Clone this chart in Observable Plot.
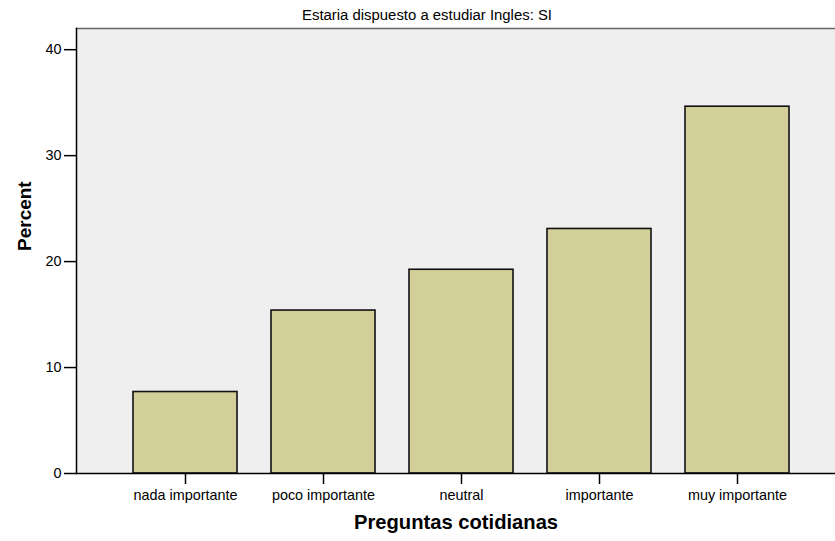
<!DOCTYPE html>
<html>
<head>
<meta charset="utf-8">
<script src="https://cdn.jsdelivr.net/npm/d3@7"></script>
<script src="https://cdn.jsdelivr.net/npm/@observablehq/plot@0.6"></script>
<style>
  html, body { margin: 0; padding: 0; background: #fff; }
  svg { display: block; }
</style>
</head>
<body>
<div id="chart"></div>
<script>
const categories = ["nada importante", "poco importante", "neutral", "importante", "muy importante"];
const percents = [7.69, 15.38, 19.23, 23.08, 34.62];
const yTicks = [0, 10, 20, 30, 40];
const title = "Estaria dispuesto a estudiar Ingles: SI";
const xTitle = "Preguntas cotidianas";
const yTitle = "Percent";

const data = categories.map((c, i) => ({category: c, percent: percents[i]}));
const font = "'Liberation Sans', Arial, sans-serif";

const chart = Plot.plot({
  width: 835,
  height: 541,
  marginLeft: 76,
  marginRight: 0,
  marginTop: 28,
  marginBottom: 68,
  style: {fontFamily: font, fontSize: "14.4px", color: "#000", background: "#fff"},
  x: {domain: categories, range: [76, 845], paddingInner: 0.25, paddingOuter: 0.4, label: null},
  y: {domain: [0, 42], label: null},
  marks: [
    Plot.frame({fill: "#efefef", stroke: null}),
    Plot.frame({anchor: "top", stroke: "#666", strokeWidth: 1.5}),
    Plot.barY(data, {x: "category", y: "percent", fill: "#d3cf99", stroke: "#111", strokeWidth: 1.6}),
    Plot.frame({anchor: "left", stroke: "#000", strokeWidth: 1.5}),
    Plot.ruleY([0], {stroke: "#000", strokeWidth: 1.5}),
    Plot.axisY({ticks: yTicks, tickSize: 12, tickPadding: 3, tickFormat: d => d, fontSize: 14.4, label: null, stroke: "#000", strokeWidth: 1.5}),
    Plot.axisX({tickSize: 11, tickPadding: 5, fontSize: 14.4, label: null, stroke: "#000", strokeWidth: 1.5}),
    Plot.text([title], {frameAnchor: "top", lineAnchor: "middle", dx: -29, dy: -13, fontSize: 14.9, fill: "#000"}),
    Plot.text([yTitle], {frameAnchor: "left", lineAnchor: "middle", dx: -52, rotate: -90, fontSize: 19, fontWeight: "bold", fill: "#000"}),
    Plot.text([xTitle], {frameAnchor: "bottom", lineAnchor: "middle", dy: 49, fontSize: 20.2, fontWeight: "bold", fill: "#000"})
  ]
});
document.getElementById("chart").appendChild(chart);
</script>
</body>
</html>
